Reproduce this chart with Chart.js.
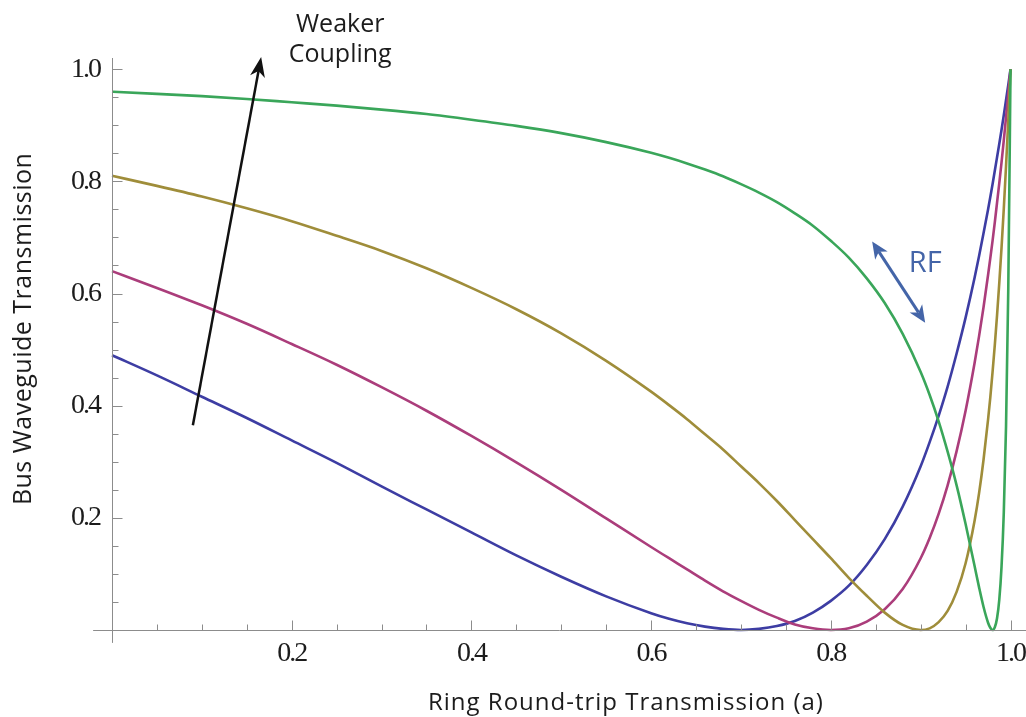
<!DOCTYPE html>
<html>
<head>
<meta charset="utf-8">
<title>Bus waveguide transmission</title>
<script src="https://cdn.jsdelivr.net/npm/chart.js@4.4.1/dist/chart.umd.min.js"></script>
<style>
  html, body { margin: 0; padding: 0; background: #fff; }
  #chart { display: block; }
</style>
</head>
<body>
<canvas id="chart" width="1026" height="717"></canvas>
<script>
// ring round-trip transmission a, shared by every curve
const aValues = [0, 0.05, 0.1, 0.15, 0.2, 0.25, 0.3, 0.35, 0.4, 0.45, 0.5, 0.55, 0.6,
  0.62, 0.64, 0.66, 0.68, 0.7, 0.72, 0.74, 0.76, 0.78, 0.8, 0.82, 0.84, 0.86, 0.88, 0.9,
  0.91, 0.92, 0.93, 0.94, 0.95, 0.96,
  0.965, 0.97, 0.975, 0.9775, 0.98, 0.9825, 0.985, 0.9875, 0.99, 0.9925, 0.995, 0.9975, 1.0];

// bus transmission (strong -> weak coupling)
const busBlue = [0.490, 0.454, 0.416, 0.378, 0.338, 0.298, 0.256, 0.215, 0.174, 0.133, 0.095, 0.060, 0.030,
  0.020, 0.012, 0.006, 0.002, 0.000, 0.002, 0.007, 0.016, 0.031, 0.052, 0.079, 0.116, 0.162, 0.220, 0.292,
  0.335, 0.382, 0.434, 0.493, 0.557, 0.628,
  0.667, 0.708, 0.750, 0.772, 0.795, 0.819, 0.843, 0.867, 0.892, 0.918, 0.945, 0.972, 1.000];
const busMagenta = [0.640, 0.610, 0.579, 0.546, 0.510, 0.473, 0.433, 0.391, 0.346, 0.299, 0.250, 0.199, 0.148,
  0.128, 0.108, 0.088, 0.069, 0.052, 0.036, 0.022, 0.010, 0.003, 0.000, 0.003, 0.015, 0.037, 0.073, 0.128,
  0.164, 0.207, 0.258, 0.319, 0.391, 0.476,
  0.524, 0.576, 0.633, 0.663, 0.694, 0.727, 0.762, 0.797, 0.834, 0.873, 0.914, 0.956, 1.000];
const busOlive = [0.810, 0.792, 0.773, 0.752, 0.729, 0.703, 0.676, 0.645, 0.610, 0.572, 0.529, 0.480, 0.425,
  0.401, 0.376, 0.349, 0.322, 0.292, 0.262, 0.230, 0.196, 0.162, 0.128, 0.093, 0.061, 0.031, 0.009, 0.000,
  0.003, 0.014, 0.034, 0.068, 0.119, 0.195,
  0.244, 0.304, 0.375, 0.415, 0.460, 0.508, 0.561, 0.619, 0.682, 0.751, 0.827, 0.909, 1.000];
const busGreen = [0.960, 0.956, 0.952, 0.947, 0.941, 0.935, 0.928, 0.920, 0.910, 0.899, 0.886, 0.870, 0.851,
  0.842, 0.832, 0.821, 0.809, 0.795, 0.780, 0.763, 0.743, 0.721, 0.694, 0.664, 0.627, 0.583, 0.528, 0.460,
  0.419, 0.372, 0.318, 0.258, 0.189, 0.114,
  0.076, 0.041, 0.013, 0.004, 0.000, 0.005, 0.021, 0.054, 0.113, 0.209, 0.363, 0.608, 1.000];

const seriesNames = ['r = 0.70', 'r = 0.80', 'r = 0.90', 'r = 0.98'];
const seriesValues = [busBlue, busMagenta, busOlive, busGreen];
const seriesColors = ['#3d3da3', '#ab3d7b', '#9f8d3a', '#3aa65a'];

const xTickValues = [0.2, 0.4, 0.6, 0.8, 1.0];
const yTickValues = [0.2, 0.4, 0.6, 0.8, 1.0];
const xTitle = 'Ring Round-trip Transmission (a)';
const yTitle = 'Bus Waveguide Transmission';

const axisColor = '#8c8c8c';
const textColor = '#1c1c1c';
const rfColor = '#4465a8';

// annotation anchors, in data units
const couplingArrow = { from: [0.090, 0.365], to: [0.166, 1.022] };
const couplingText = { x: 0.254, lines: [['Weaker', 1.067], ['Coupling', 1.012]] };
const rfArrow = { from: [0.846, 0.693], to: [0.905, 0.548] };
const rfText = { x: 0.905, y: 0.639, text: 'RF' };

function arrowHead(ctx, fx, fy, tx, ty, len, half) {
  const ang = Math.atan2(ty - fy, tx - fx);
  const c = Math.cos(ang), s = Math.sin(ang);
  ctx.beginPath();
  ctx.moveTo(tx, ty);
  ctx.lineTo(tx - len * c - half * s, ty - len * s + half * c);
  ctx.lineTo(tx - 0.72 * len * c, ty - 0.72 * len * s);
  ctx.lineTo(tx - len * c + half * s, ty - len * s - half * c);
  ctx.closePath();
  ctx.fill();
  return [tx - 0.72 * len * c, ty - 0.72 * len * s];
}

// no automatic edge padding: the axes sit exactly where the reference has them
function noScalePadding(s) {
  s.paddingLeft = 0; s.paddingRight = 0; s.paddingTop = 0; s.paddingBottom = 0;
}

const axisDecor = {
  id: 'axisDecor',
  beforeDraw(chart) {
    // tick numbers in the reference are tightly set
    chart.ctx.letterSpacing = '-2px';
  },
  afterDraw(chart) {
    const ctx = chart.ctx;
    const xs = chart.scales.x, ys = chart.scales.y;
    const px = v => xs.getPixelForValue(v);
    const py = v => ys.getPixelForValue(v);
    ctx.save();
    ctx.letterSpacing = '0px';

    // axes crossing at the origin, with small overhangs
    const ax = Math.round(px(0)) + 0.5, ay = Math.round(py(0)) + 0.5;
    ctx.strokeStyle = axisColor;
    ctx.lineWidth = 1;
    ctx.beginPath();
    ctx.moveTo(px(-0.021), ay); ctx.lineTo(chart.width, ay);
    ctx.moveTo(ax, py(-0.023)); ctx.lineTo(ax, py(1.02));
    // major / minor tick marks every 0.05
    for (let i = 1; i <= 20; i++) {
      const v = i * 0.05;
      const len = i % 4 === 0 ? 10 : 6;
      const tx = Math.round(px(v)) + 0.5;
      ctx.moveTo(tx, ay); ctx.lineTo(tx, ay - len);
      const ty = Math.round(py(v)) + 0.5;
      ctx.moveTo(ax, ty); ctx.lineTo(ax + len, ty);
    }
    ctx.stroke();

    // axis titles
    ctx.fillStyle = textColor;
    ctx.textAlign = 'center';
    ctx.textBaseline = 'alphabetic';
    ctx.font = '24px "Open Sans", sans-serif';
    ctx.letterSpacing = '1px';
    ctx.fillText(xTitle, px(0.572), 710);
    ctx.save();
    ctx.translate(31, py(0.537));
    ctx.rotate(-Math.PI / 2);
    ctx.font = '25px "Open Sans", sans-serif';
    ctx.letterSpacing = '0.5px';
    ctx.fillText(yTitle, 0, 0);
    ctx.restore();
    ctx.letterSpacing = '0px';

    // "weaker coupling" arrow
    let fx = px(couplingArrow.from[0]), fy = py(couplingArrow.from[1]);
    let tx = px(couplingArrow.to[0]), ty = py(couplingArrow.to[1]);
    ctx.fillStyle = '#111';
    ctx.strokeStyle = '#111';
    ctx.lineWidth = 2.5;
    const notch = arrowHead(ctx, fx, fy, tx, ty, 20, 7.5);
    ctx.beginPath();
    ctx.moveTo(fx, fy); ctx.lineTo(notch[0], notch[1]);
    ctx.stroke();

    ctx.fillStyle = textColor;
    ctx.font = '25px "Open Sans", sans-serif';
    couplingText.lines.forEach(([t, y]) => ctx.fillText(t, px(couplingText.x), py(y)));

    // RF double arrow
    fx = px(rfArrow.from[0]); fy = py(rfArrow.from[1]);
    tx = px(rfArrow.to[0]); ty = py(rfArrow.to[1]);
    ctx.fillStyle = rfColor;
    ctx.strokeStyle = rfColor;
    ctx.lineWidth = 3;
    const n1 = arrowHead(ctx, fx, fy, tx, ty, 17, 7.5);
    const n2 = arrowHead(ctx, tx, ty, fx, fy, 17, 7.5);
    ctx.beginPath();
    ctx.moveTo(n2[0], n2[1]); ctx.lineTo(n1[0], n1[1]);
    ctx.stroke();
    ctx.font = '29px "Open Sans", sans-serif';
    ctx.fillText(rfText.text, px(rfText.x), py(rfText.y));

    ctx.restore();
  }
};

const tickFont = { family: '"Liberation Serif", "Times New Roman", serif', size: 28, lineHeight: 1 };

new Chart(document.getElementById('chart'), {
  type: 'line',
  data: {
    datasets: seriesValues.map((vals, i) => ({
      label: seriesNames[i],
      data: aValues.map((a, k) => ({ x: a, y: vals[k] })),
      borderColor: seriesColors[i],
      backgroundColor: seriesColors[i],
      borderWidth: 2.6,
      pointRadius: 0,
      fill: false,
      cubicInterpolationMode: 'monotone',
      clip: false,
      order: seriesValues.length - i
    }))
  },
  options: {
    responsive: false,
    animation: false,
    layout: { padding: { top: 58, right: 2, left: 0, bottom: 0 } },
    plugins: {
      legend: { display: false },
      tooltip: { enabled: false }
    },
    scales: {
      x: {
        type: 'linear',
        min: 0,
        max: 1.015,
        grid: { display: false, drawTicks: false },
        border: { display: false },
        afterBuildTicks: s => { s.ticks = xTickValues.map(v => ({ value: v })); },
        afterFit: s => { s.height = 87; noScalePadding(s); },
        ticks: {
          font: tickFont,
          color: textColor,
          padding: 10,
          maxRotation: 0,
          callback: v => v.toFixed(1)
        }
      },
      y: {
        type: 'linear',
        min: 0,
        max: 1.02,
        grid: { display: false, drawTicks: false },
        border: { display: false },
        afterBuildTicks: s => { s.ticks = yTickValues.map(v => ({ value: v })); },
        afterFit: s => { s.width = 112; noScalePadding(s); },
        ticks: {
          font: tickFont,
          color: textColor,
          padding: 12,
          callback: v => v.toFixed(1)
        }
      }
    }
  },
  plugins: [axisDecor]
});
</script>
</body>
</html>
